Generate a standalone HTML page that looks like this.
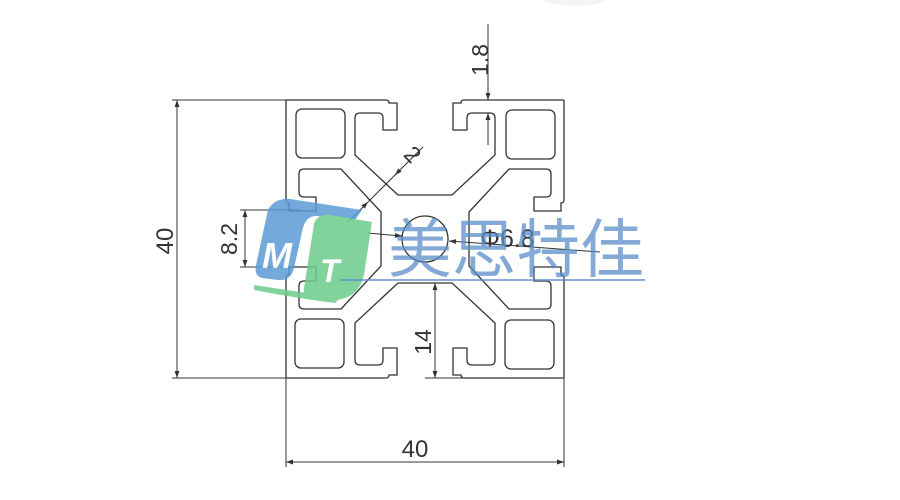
<!DOCTYPE html>
<html><head><meta charset="utf-8"><style>
html,body{margin:0;padding:0;background:#fff;width:900px;height:500px;overflow:hidden}
svg{display:block}
text{font-family:"Liberation Sans","Noto Sans CJK SC",sans-serif;fill:#333}
</style></head><body>
<svg width="900" height="500" viewBox="0 0 900 500" xmlns="http://www.w3.org/2000/svg">
<defs>
<marker id="a" viewBox="0 0 10 10" refX="10" refY="5" markerWidth="10" markerHeight="7" orient="auto-start-reverse" markerUnits="userSpaceOnUse"><path d="M0,1.5 L10,5 L0,8.5 z" fill="#333"/></marker>
<g id="side">
<path d="M286,100 L386,100 Q389,100 389,103 L397,103 L397,130 L383,130 L383,118 Q383,113 378,113 L360,113 Q355,113 355,118 L355,155 L398,195 L452,195 L495,155 L495,118 Q495,113 490,113 L472,113 Q467,113 467,118 L467,130 L453,130 L453,103 L461,103 Q461,100 464,100 L564,100" fill="none" stroke="#333" stroke-width="1.3"/>
<rect x="296" y="109" width="49" height="49" rx="6" fill="none" stroke="#333" stroke-width="1.3"/>
</g>
</defs>
<ellipse cx="575" cy="-8" rx="40" ry="14" fill="#f4f4f4"/>
<use href="#side"/>
<use href="#side" transform="rotate(90 425 239)"/>
<use href="#side" transform="rotate(180 425 239)"/>
<use href="#side" transform="rotate(270 425 239)"/>
<circle cx="425" cy="239" r="23" fill="none" stroke="#333" stroke-width="1.3"/>

<g stroke="#333" stroke-width="1" fill="none">
<line x1="172" y1="100" x2="286" y2="100"/><line x1="172" y1="378" x2="286" y2="378"/>
<line x1="177" y1="100" x2="177" y2="378" marker-start="url(#a)" marker-end="url(#a)"/>
<line x1="286" y1="378" x2="286" y2="467"/><line x1="564" y1="378" x2="564" y2="467"/>
<line x1="286" y1="462" x2="564" y2="462" marker-start="url(#a)" marker-end="url(#a)"/>
<line x1="240" y1="210" x2="300" y2="210"/><line x1="240" y1="267" x2="300" y2="267"/>
<line x1="245" y1="210" x2="245" y2="267" marker-start="url(#a)" marker-end="url(#a)"/>
<line x1="488" y1="24" x2="488" y2="100" marker-end="url(#a)"/>
<line x1="488" y1="145" x2="488" y2="113" marker-end="url(#a)"/>
<line x1="435" y1="283" x2="435" y2="378" marker-start="url(#a)" marker-end="url(#a)"/>
<line x1="425" y1="378" x2="465" y2="378"/>
<line x1="423" y1="147" x2="397" y2="173" />
<line x1="397" y1="173" x2="395" y2="175" marker-end="url(#a)"/>
<line x1="348" y1="222" x2="368" y2="202" marker-end="url(#a)"/>
<line x1="397" y1="173" x2="368" y2="202"/>
<line x1="367" y1="233" x2="402" y2="236" marker-end="url(#a)"/>
<line x1="600" y1="252" x2="449" y2="241" marker-end="url(#a)"/>
</g>

<text x="415" y="457" font-size="24" text-anchor="middle">40</text>
<text transform="translate(173,241) rotate(-90)" font-size="24" text-anchor="middle">40</text>
<text transform="translate(237,239) rotate(-90)" font-size="23" text-anchor="middle">8.2</text>
<text transform="translate(488,60) rotate(-90)" font-size="23" text-anchor="middle">1.8</text>
<text transform="translate(431,342) rotate(-90)" font-size="23" text-anchor="middle">14</text>
<text transform="translate(407,160) rotate(45)" font-size="23" text-anchor="middle">2</text>
<text x="480" y="247" font-size="25">Φ6.8</text>

<g opacity="0.85">
<path d="M268,210 Q274,198 290,199 L362,210 L355,220 L316,216 Q305,216 302,232 L294,268 Q291,281 278,280 L262,278 Q254,276 256,265 Z" fill="#5b9bd5"/>
<path d="M314,224 Q317,214 330,215 L372,222 L364,275 Q358,300 332,300 L314,300 Q302,300 304,288 Z" fill="#6dcc8a"/>
<path d="M254,285 Q300,292 340,298 L335,303 Q295,298 254,290 Z" fill="#6dcc8a"/>
<text x="262" y="268" font-size="36" font-weight="bold" font-style="italic" style="fill:#fff">M</text>
<text x="320" y="282" font-size="32" font-weight="bold" font-style="italic" style="fill:#fff">T</text>
</g>
<text x="388" y="272" font-size="64" style="fill:rgba(90,140,200,0.75)" font-family="Noto Sans CJK SC, sans-serif">美思特佳</text>
<line x1="340" y1="280" x2="645" y2="280" stroke="rgba(90,140,200,0.7)" stroke-width="2"/>
</svg>
</body></html>
